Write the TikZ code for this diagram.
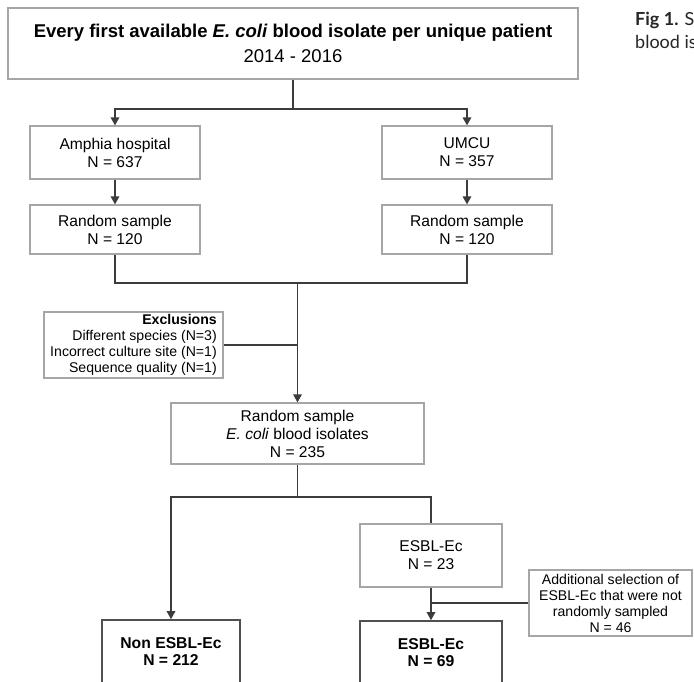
\documentclass[tikz,border=0pt]{standalone}
\usepackage{fontspec}
\setmainfont{Liberation Sans}
\newfontfamily\capfont{Lato}
\usetikzlibrary{arrows.meta}
\definecolor{boxgray}{HTML}{A6A6A6}
\definecolor{boldgray}{HTML}{505050}
\definecolor{lineg}{HTML}{3C3C3C}
\begin{document}
\begin{tikzpicture}[x=1pt,y=-1pt,
  box/.style={draw=boxgray, line width=1.2pt, align=center, inner sep=0pt, text=black,
    font=\fontsize{15.6}{18}\selectfont},
  boldbox/.style={draw=boldgray, line width=1.6pt, align=center, inner sep=0pt, text=black,
    font=\bfseries\fontsize{15.7}{17}\selectfont},
  smallbox/.style={box, font=\fontsize{14.1}{16}\selectfont},
  conn/.style={draw=lineg, line width=1.4pt},
  arr/.style={conn, -{Triangle[length=8pt,width=8.5pt]}},
  captext/.style={anchor=base west, inner sep=0pt, text={black!85},
    font=\capfont\fontsize{18}{23}\selectfont},
]
\useasboundingbox (0,0) rectangle (694,681);
\clip (0,0) rectangle (694,681);
\fill[white] (0,0) rectangle (694,681);

% boxes
\node[box, minimum width=570pt, minimum height=71pt, font=\fontsize{18.5}{25}\selectfont] (top) at (293,43.5)
  {\textbf{Every first available \textit{E. coli} blood isolate per unique patient}\\2014 - 2016};
\node[box, minimum width=170pt, minimum height=53pt] (amph) at (115,152.5) {Amphia hospital\\N = 637};
\node[box, minimum width=170pt, minimum height=53pt] (umcu) at (467,152.5) {UMCU\\N = 357};
\node[box, minimum width=170pt, minimum height=49pt] (randA) at (115,229.5) {Random sample\\N = 120};
\node[box, minimum width=170pt, minimum height=49pt] (randU) at (467,229.5) {Random sample\\N = 120};
\node[smallbox, align=right, minimum width=179pt, minimum height=66pt] (excl) at (133.5,345)
  {\textbf{Exclusions}\\Different species (N=3)\\Incorrect culture site (N=1)\\Sequence quality (N=1)};
\node[box, minimum width=253pt, minimum height=61pt] (rand) at (297.5,433.5)
  {Random sample\\\textit{E. coli} blood isolates\\N = 235};
\node[box, minimum width=142pt, minimum height=63pt] (esblA) at (431,555.5) {ESBL-Ec\\N = 23};
\node[smallbox, minimum width=163pt, minimum height=66pt] (add) at (610.5,603)
  {Additional selection of\\ESBL-Ec that were not\\randomly sampled\\N = 46};
\node[boldbox, minimum width=138pt, minimum height=64pt] (non) at (171,652) {Non ESBL-Ec\\N = 212};
\node[boldbox, minimum width=142pt, minimum height=63pt] (esblB) at (431,652.5) {ESBL-Ec\\N = 69};

% caption
\node[captext] (cap1) at (635,25) {\textbf{Fig 1.} S};
\node[captext] (cap2) at (635,48) {blood is};

% connectors
\coordinate (j1) at (293,109);
\coordinate (j2) at (297.5,283);
\coordinate (j3) at (297.5,497);
\draw[conn] (top.south) -- (j1);
\draw[arr] (j1) -| (amph.north);
\draw[arr] (j1) -| (umcu.north);
\draw[arr] (amph.south) -- (randA.north);
\draw[arr] (umcu.south) -- (randU.north);
\draw[conn] (randA.south) |- (j2);
\draw[conn] (randU.south) |- (j2);
\draw[arr] (j2) -- (rand.north);
\draw[conn] (excl.east) -- (excl.east -| j2);
\draw[conn] (rand.south) -- (j3);
\draw[arr] (j3) -| (non.north);
\draw[conn] (j3) -| (esblA.north);
\draw[arr] (esblA.south) -- (esblB.north);
\draw[conn] (add.west) -- (add.west -| esblA.south);
\end{tikzpicture}
\end{document}
